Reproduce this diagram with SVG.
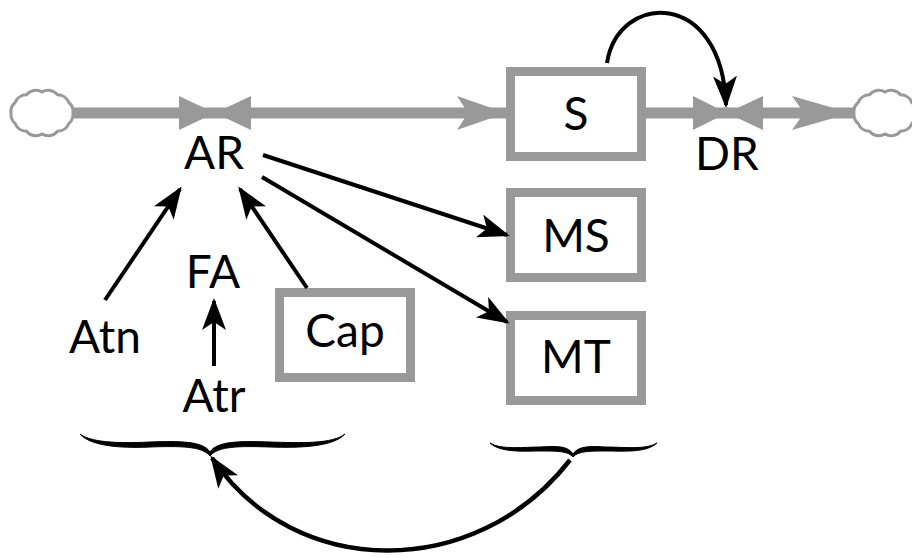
<svg xmlns="http://www.w3.org/2000/svg" width="912" height="558" viewBox="0 0 912 558">
<style>
.box{fill:#fff;stroke:#999;stroke-width:9}
.pipe{stroke:#999;stroke-width:11;fill:none}
.gray{fill:#999}
.cloud{fill:#fff;stroke:#999;stroke-width:3}
.lbl{font-family:Lato,"Open Sans",sans-serif;font-size:46px;fill:#000;text-anchor:middle}
.link{fill:none;stroke:#000;stroke-width:4}
.brace{fill:#000;stroke:#000;stroke-width:1}
</style>
<defs>
<marker id="ah" viewBox="0 0 32 24" refX="29" refY="12" markerWidth="32" markerHeight="24" markerUnits="userSpaceOnUse" orient="auto">
<path d="M0,0 L32,12 L0,24 L8,12 z" fill="#000"/>
</marker>
<path id="cl" d="M31,0 A12,12 0 0 1 26.85,10.5 A12,12 0 0 1 15.5,18.19 A12,12 0 0 1 0,21 A12,12 0 0 1 -15.5,18.19 A12,12 0 0 1 -26.85,10.5 A12,12 0 0 1 -31,0 A12,12 0 0 1 -26.85,-10.5 A12,12 0 0 1 -15.5,-18.19 A12,12 0 0 1 0,-21 A12,12 0 0 1 15.5,-18.19 A12,12 0 0 1 26.85,-10.5 A12,12 0 0 1 31,0 z"/>
</defs>
<g id="flows">
<line class="pipe" x1="70" y1="113" x2="506" y2="113"/>
<line class="pipe" x1="646" y1="113" x2="856" y2="113"/>
<polygon class="gray" points="457,96 506,113 457,130 468,113"/>
<polygon class="gray" points="792,96 851,113 792,130 804,113"/>
</g>
<g id="cloud-left"><use href="#cl" class="cloud" transform="translate(42,113)"/></g>
<g id="cloud-right"><use href="#cl" class="cloud" transform="translate(885,113)"/></g>
<g id="AR">
<polygon class="gray" points="179,96 215,113 179,130"/>
<polygon class="gray" points="251,96 215,113 251,130"/>
<text class="lbl" x="214" y="169">AR</text>
</g>
<g id="DR">
<polygon class="gray" points="693,96 727,113 693,130"/>
<polygon class="gray" points="763,96 727,113 763,130"/>
<text class="lbl" x="727" y="170">DR</text>
</g>
<g id="S"><rect class="box" x="510.5" y="71.5" width="131" height="85"/><text class="lbl" x="576" y="130">S</text></g>
<g id="MS"><rect class="box" x="510.5" y="192.5" width="131" height="85"/><text class="lbl" x="576" y="252">MS</text></g>
<g id="MT"><rect class="box" x="510.5" y="315.5" width="131" height="85"/><text class="lbl" x="576" y="373">MT</text></g>
<g id="Cap"><rect class="box" x="279.5" y="292.5" width="131" height="85"/><text class="lbl" x="345" y="347">Cap</text></g>
<g id="FA"><text class="lbl" x="213" y="288">FA</text></g>
<g id="Atn"><text class="lbl" x="105" y="353">Atn</text></g>
<g id="Atr"><text class="lbl" x="214" y="412">Atr</text></g>
<g id="braces">
<path class="brace" d="M80,434 C92,444 130,443 150,442 C180,441 203,441 210,452 C217,441 240,441 270,442 C300,443 333,444 345,434 C333,447 300,448 270,447 C240,446 218,446 210,456 C202,446 180,446 150,447 C130,448 92,448 80,434 z"/>
<path class="brace" d="M490,443 C500,450 525,447 540,447 C558,446 568,446 573,454 C578,446 590,446 606,447 C623,447 647,450 657,443 C647,453 623,451 606,451 C590,451 578,451 573,457 C568,451 558,451 540,451 C525,451 500,453 490,443 z"/>
</g>
<g id="connectors">
<line class="link" x1="105" y1="300" x2="180" y2="189" marker-end="url(#ah)"/>
<line class="link" x1="307" y1="288" x2="240" y2="189" marker-end="url(#ah)"/>
<line class="link" x1="214" y1="366" x2="214" y2="301" marker-end="url(#ah)"/>
<line class="link" x1="263" y1="155" x2="507" y2="235" marker-end="url(#ah)"/>
<line class="link" x1="262" y1="177" x2="507" y2="322" marker-end="url(#ah)"/>
<path class="link" d="M607,63 C618,-8 722,-12 726,105" marker-end="url(#ah)"/>
<path class="link" style="stroke-width:4.5" d="M570,460 C476,581 295,581 212,458" marker-end="url(#ah)"/>
</g>
</svg>
